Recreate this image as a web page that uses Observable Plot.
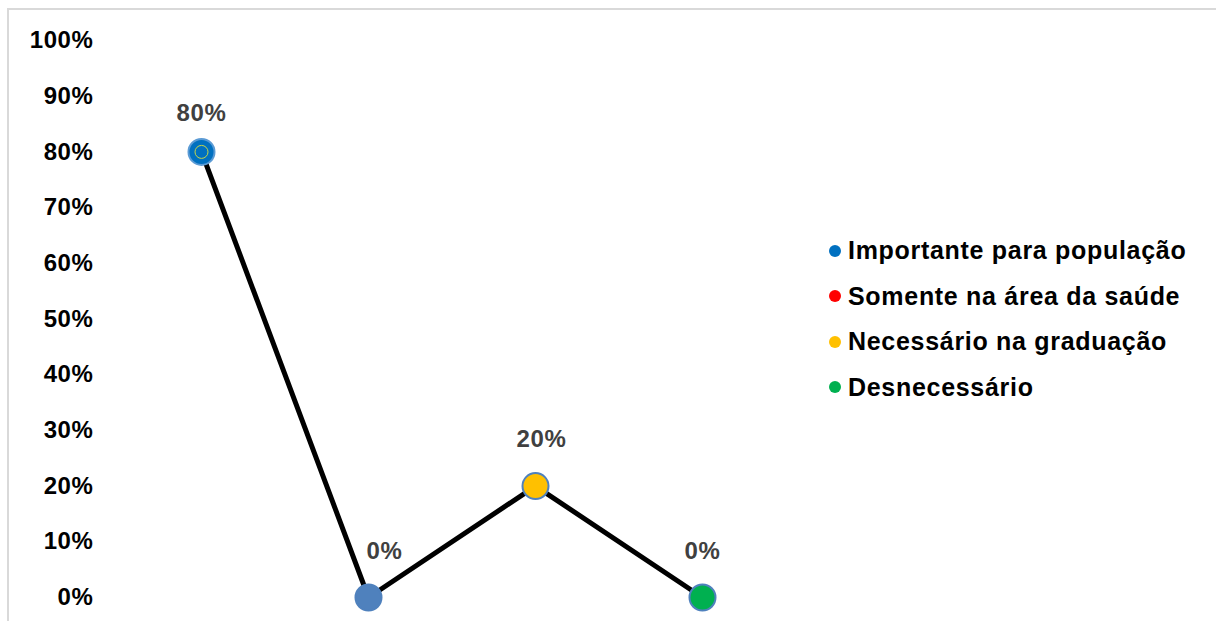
<!DOCTYPE html>
<html>
<head>
<meta charset="utf-8">
<script src="https://cdn.jsdelivr.net/npm/d3@7"></script>
<script src="https://cdn.jsdelivr.net/npm/@observablehq/plot@0.6"></script>
<style>
  html, body { margin: 0; padding: 0; background: #fff; }
  #wrap { position: relative; width: 1216px; height: 621px; overflow: hidden; font-family: "Liberation Sans", Arial, sans-serif; }
  #border { position: absolute; left: 7px; top: 8px; right: -5px; bottom: -5px; border-left: 2px solid #d9d9d9; border-top: 2px solid #d9d9d9; }
  #chart { position: absolute; left: 0; top: 0; }
  #legend { position: absolute; left: 829px; top: 228px; font-weight: bold; font-size: 25px; letter-spacing: 0.7px; color: #000; }
  .item { display: flex; align-items: center; height: 45.5px; }
  .sw { width: 12px; height: 12px; border-radius: 50%; margin-right: 7px; }
</style>
</head>
<body>
<div id="wrap">
  <div id="border"></div>
  <div id="chart"></div>
  <div id="legend"></div>
</div>
<script>
const categories = ["Importante para população", "Somente na área da saúde", "Necessário na graduação", "Desnecessário"];
const values = [0.8, 0, 0.2, 0];
const pointColors = ["#0070C0", "#4F81BD", "#FFC000", "#00B050"];
const legendColors = ["#0070C0", "#FF0000", "#FFC000", "#00B050"];
const yTicks = [0, 0.1, 0.2, 0.3, 0.4, 0.5, 0.6, 0.7, 0.8, 0.9, 1.0];

const data = categories.map((c, i) => ({cat: c, value: values[i], color: pointColors[i], i}));
const fmt = d3.format(".0%");

const labelOffsets = [[0, -39], [16, -46], [6, -47], [0, -46]];

const chart = Plot.plot({
  width: 1216,
  height: 621,
  marginLeft: 100,
  marginRight: 513,
  marginTop: 40,
  marginBottom: 24,
  x: {type: "point", domain: categories, padding: 0, insetLeft: 100, axis: null},
  y: {domain: [0, 1], ticks: yTicks, tickFormat: fmt},
  style: {fontFamily: "Liberation Sans, Arial, sans-serif", overflow: "visible", letterSpacing: "0.6px"},
  marks: [
    Plot.axisY({ticks: yTicks, tickFormat: fmt, tickSize: 0, tickPadding: 7, fontSize: 24, fontWeight: "bold", fill: "#000", label: null}),
    Plot.line(data, {x: "cat", y: "value", stroke: "#000", strokeWidth: 5}),
    Plot.dot(data, {x: "cat", y: "value", r: 13, fill: "color", stroke: (d) => d.i === 0 ? "#5B9BD5" : "#4F81BD", strokeWidth: 2}),
    Plot.dot(data.filter(d => d.i === 0), {x: "cat", y: "value", r: 6.5, fill: "none", stroke: "#C4D64A", strokeWidth: 1}),
    ...data.map((d, k) => Plot.text([d], {x: "cat", y: "value", text: (e) => fmt(e.value), dx: labelOffsets[k][0], dy: labelOffsets[k][1], fontSize: 24, fontWeight: "bold", fill: "#404040"}))
  ]
});
document.getElementById("chart").appendChild(chart);

const legend = document.getElementById("legend");
categories.forEach((c, i) => {
  const item = document.createElement("div");
  item.className = "item";
  const sw = document.createElement("span");
  sw.className = "sw";
  sw.style.background = legendColors[i];
  const t = document.createElement("span");
  t.textContent = c;
  item.appendChild(sw);
  item.appendChild(t);
  legend.appendChild(item);
});
</script>
</body>
</html>
